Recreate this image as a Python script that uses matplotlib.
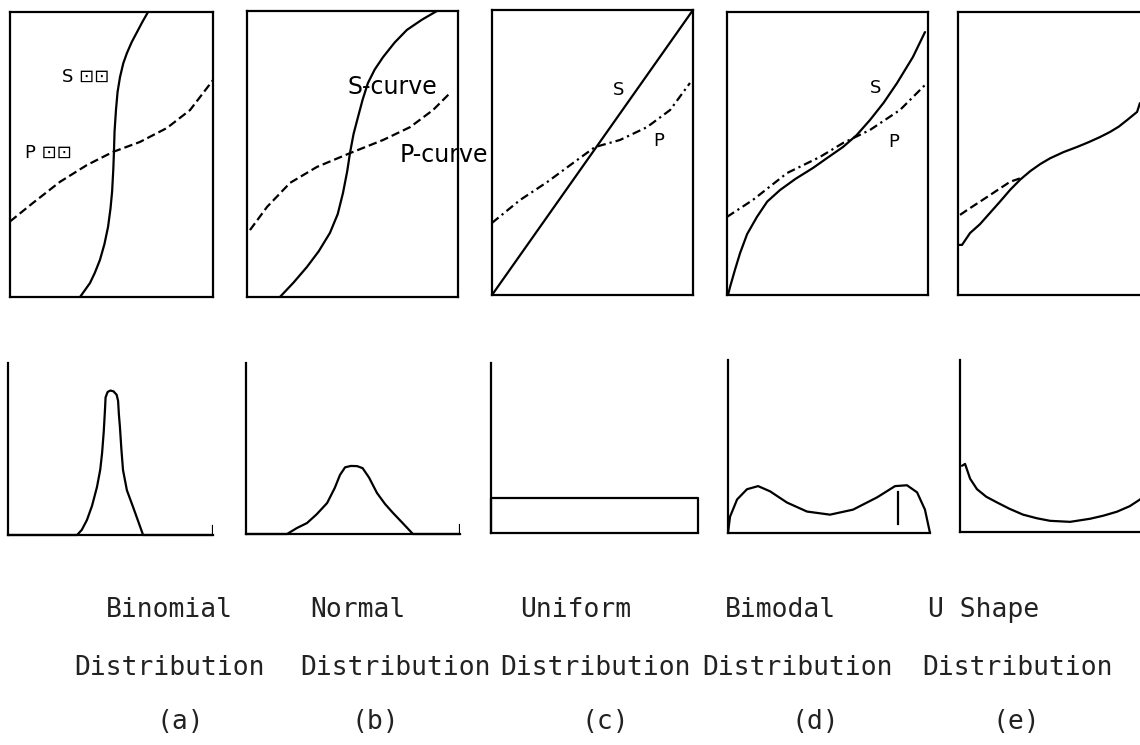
import matplotlib
matplotlib.use("Agg")
import matplotlib.pyplot as plt

W, H = 1140, 745
LW = 1.6

# top row: cumulative curves (axes fraction coords)
s_a_x = [0.345, 0.365, 0.394, 0.418, 0.443, 0.465, 0.483, 0.495, 0.503, 0.509, 0.512,
         0.515, 0.522, 0.530, 0.542, 0.558, 0.576, 0.600, 0.626, 0.652, 0.680]
s_a_y = [0.0, 0.02, 0.049, 0.085, 0.130, 0.185, 0.246, 0.31, 0.37, 0.45, 0.509,
         0.58, 0.656, 0.72, 0.772, 0.82, 0.856, 0.895, 0.930, 0.965, 1.0]
p_a_x = [0.0, 0.113, 0.246, 0.379, 0.507, 0.640, 0.773, 0.887, 1.0]
p_a_y = [0.265, 0.330, 0.404, 0.463, 0.509, 0.544, 0.593, 0.656, 0.761]

s_b_x = [0.156, 0.22, 0.284, 0.34, 0.393, 0.43, 0.455, 0.475, 0.488, 0.505, 0.526,
         0.548, 0.573, 0.605, 0.645, 0.70, 0.758, 0.83, 0.900]
s_b_y = [0.0, 0.05, 0.105, 0.16, 0.224, 0.29, 0.364, 0.44, 0.503, 0.57, 0.629,
         0.69, 0.748, 0.795, 0.839, 0.89, 0.934, 0.97, 1.0]
p_b_x = [0.014, 0.095, 0.204, 0.332, 0.488, 0.645, 0.773, 0.882, 0.962]
p_b_y = [0.234, 0.315, 0.399, 0.455, 0.503, 0.549, 0.594, 0.654, 0.713]

s_c_x = [0.0, 1.0]
s_c_y = [0.0, 1.0]
p_c_x = [0.0, 0.139, 0.274, 0.403, 0.512, 0.637, 0.771, 0.886, 0.985]
p_c_y = [0.253, 0.333, 0.396, 0.463, 0.519, 0.544, 0.589, 0.649, 0.744]

s_d_x = [0.005, 0.015, 0.04, 0.065, 0.10, 0.149, 0.20, 0.264, 0.34, 0.428, 0.50,
         0.577, 0.645, 0.711, 0.78, 0.846, 0.925, 0.985]
s_d_y = [0.0, 0.028, 0.09, 0.148, 0.215, 0.276, 0.33, 0.371, 0.41, 0.449, 0.485,
         0.523, 0.565, 0.618, 0.68, 0.749, 0.841, 0.929]
p_d_x = [0.0, 0.129, 0.299, 0.463, 0.577, 0.711, 0.861, 0.985]
p_d_y = [0.276, 0.336, 0.431, 0.488, 0.537, 0.583, 0.654, 0.742]

s_e_x = [0.0, 0.02, 0.06, 0.109, 0.159, 0.209, 0.26, 0.31, 0.36, 0.41, 0.458, 0.525,
         0.592, 0.65, 0.706, 0.756, 0.80, 0.841, 0.891, 0.905]
s_e_y = [0.177, 0.177, 0.219, 0.250, 0.290, 0.330, 0.372, 0.408, 0.438, 0.463, 0.483,
         0.505, 0.523, 0.540, 0.558, 0.576, 0.595, 0.618, 0.647, 0.678]
p_e_x = [0.01, 0.045, 0.144, 0.259, 0.308]
p_e_y = [0.283, 0.30, 0.346, 0.40, 0.412]

# bottom row: frequency curves
f_a_x = [0.0, 0.337, 0.36, 0.385, 0.41, 0.434, 0.45, 0.459, 0.467, 0.473, 0.476,
         0.486, 0.500, 0.515, 0.530, 0.537, 0.541, 0.546, 0.553, 0.561, 0.58, 0.610,
         0.635, 0.659, 1.0]
f_a_y = [0.0, 0.0, 0.03, 0.087, 0.17, 0.279, 0.38, 0.477, 0.60, 0.727, 0.80,
         0.832, 0.840, 0.835, 0.815, 0.78, 0.70, 0.628, 0.50, 0.378, 0.26, 0.163,
         0.08, 0.0, 0.0]

f_b_x = [0.0, 0.192, 0.238, 0.285, 0.33, 0.379, 0.415, 0.439, 0.463, 0.49, 0.519,
         0.545, 0.575, 0.612, 0.65, 0.687, 0.735, 0.780, 1.0]
f_b_y = [0.0, 0.0, 0.035, 0.064, 0.115, 0.181, 0.27, 0.345, 0.39, 0.398, 0.397,
         0.385, 0.33, 0.240, 0.175, 0.123, 0.06, 0.0, 0.0]

f_c_x = [0.0, 0.0, 1.0, 1.0]
f_c_y = [0.0, 0.205, 0.205, 0.0]

f_d_x = [0.0, 0.01, 0.045, 0.094, 0.149, 0.208, 0.292, 0.391, 0.505, 0.619, 0.738,
         0.827, 0.886, 0.936, 0.975, 1.0]
f_d_y = [0.0, 0.094, 0.194, 0.253, 0.271, 0.241, 0.176, 0.124, 0.106, 0.135, 0.206,
         0.271, 0.276, 0.235, 0.135, 0.0]

f_e_x = [0.01, 0.025, 0.05, 0.084, 0.13, 0.183, 0.245, 0.312, 0.38, 0.446, 0.545,
         0.644, 0.71, 0.777, 0.84, 0.891, 0.96]
f_e_y = [0.385, 0.396, 0.31, 0.249, 0.205, 0.172, 0.135, 0.101, 0.08, 0.065, 0.059,
         0.077, 0.095, 0.118, 0.15, 0.189, 0.27]

names = ["Binomial", "Normal", "Uniform", "Bimodal", "U Shape"]
tags = ["(a)", "(b)", "(c)", "(d)", "(e)"]
name_x = [169, 358, 576, 780, 984]
dist_x = [169, 395, 595, 797, 1018]
tag_x = [180, 375, 605, 815, 1016]

top_boxes = [(10, 12, 213, 297), (247, 11, 458, 297), (492, 10, 693, 295),
             (727, 12, 928, 295), (958, 12, 1159, 295)]
bot_boxes = [(8, 363, 213, 535), (246, 363, 460, 534), (491, 363, 698, 533),
             (728, 360, 930, 533), (960, 360, 1162, 532)]


def px_axes(fig, l, t, r, b):
    ax = fig.add_axes([l / W, (H - b) / H, (r - l) / W, (b - t) / H])
    ax.set_xlim(0, 1)
    ax.set_ylim(0, 1)
    ax.set_xticks([])
    ax.set_yticks([])
    ax.patch.set_alpha(0)
    for sp in ax.spines.values():
        sp.set_linewidth(LW)
        sp.set_color("black")
    return ax


fig = plt.figure(figsize=(W / 100, H / 100), dpi=100)
line_kw = dict(color="black", lw=LW, solid_capstyle="round",
               solid_joinstyle="round", clip_on=False)
dash = dict(color="black", lw=LW, dashes=(3.8, 1.8), clip_on=False)
dashdot = dict(color="black", lw=LW, dashes=(3.8, 1.8, 1, 1.8), clip_on=False)

tops = [(s_a_x, s_a_y, p_a_x, p_a_y, dash), (s_b_x, s_b_y, p_b_x, p_b_y, dash),
        (s_c_x, s_c_y, p_c_x, p_c_y, dashdot), (s_d_x, s_d_y, p_d_x, p_d_y, dashdot),
        (s_e_x, s_e_y, p_e_x, p_e_y, dash)]
top_axes = []
for box, (sx, sy, pxs, pys, pstyle) in zip(top_boxes, tops):
    ax = px_axes(fig, *box)
    ax.plot(sx, sy, **line_kw)
    ax.plot(pxs, pys, **pstyle)
    top_axes.append(ax)

lab = dict(fontsize=13, family="DejaVu Sans", color="black", va="center")
big = dict(fontsize=17, family="DejaVu Sans", color="black", va="center", clip_on=False)
top_axes[0].text(0.256, 0.772, "S ⊡⊡", **lab)
top_axes[0].text(0.074, 0.505, "P ⊡⊡", **lab)
top_axes[1].text(0.474, 0.734, "S-curve", **big)
top_axes[1].text(0.725, 0.497, "P-curve", zorder=5, **big)
top_axes[2].text(0.60, 0.72, "S", **lab)
top_axes[2].text(0.80, 0.54, "P", **lab)
top_axes[3].text(0.711, 0.731, "S", **lab)
top_axes[3].text(0.80, 0.54, "P", **lab)

bots = [(f_a_x, f_a_y), (f_b_x, f_b_y), (f_c_x, f_c_y), (f_d_x, f_d_y), (f_e_x, f_e_y)]
for i, (box, (fx, fy)) in enumerate(zip(bot_boxes, bots)):
    ax = px_axes(fig, *box)
    ax.spines["top"].set_visible(False)
    ax.spines["right"].set_visible(False)
    ax.plot(fx, fy, **line_kw)
    if i < 2:
        ax.axvline(1, ymax=0.05, color="black", lw=LW)
    if i == 3:
        ax.axvline(0.84, ymin=0.05, ymax=0.235, color="black", lw=LW)

txt = dict(fontsize=19, family="DejaVu Sans Mono", ha="center", va="center", color="#222222")
for n, x in zip(names, name_x):
    fig.text(x / W, 1 - 610 / H, n, **txt)
for x in dist_x:
    fig.text(x / W, 1 - 668 / H, "Distribution", **txt)
for t, x in zip(tags, tag_x):
    fig.text(x / W, 1 - 722 / H, t, **txt)

fig.savefig("out.png", dpi=100, facecolor="white")
